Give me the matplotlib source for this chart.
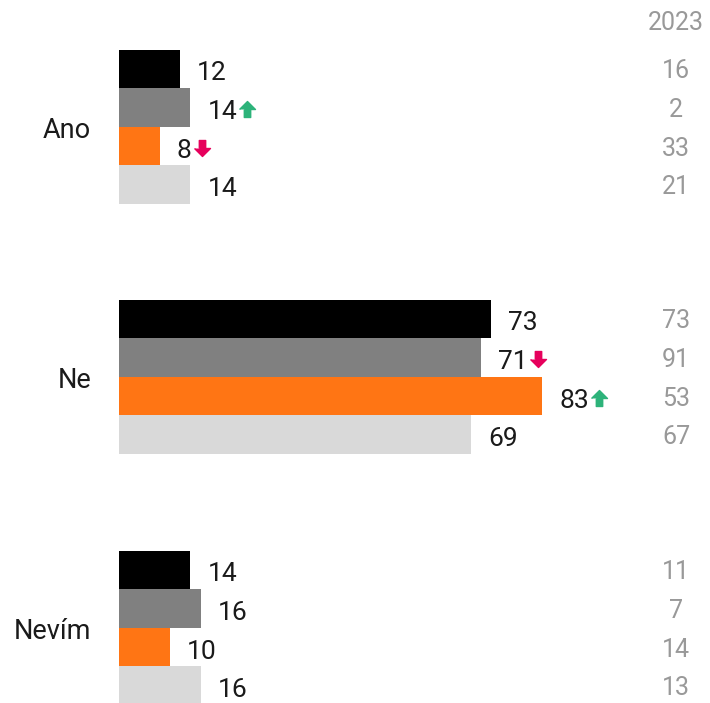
import matplotlib
matplotlib.use("Agg")
import matplotlib.pyplot as plt
import numpy as np

categories = ["Ano", "Ne", "Nevím"]
# four series per category, top to bottom
values = [
    [12, 14, 8, 14],
    [73, 71, 83, 69],
    [14, 16, 10, 16],
]
values_2023 = [
    [16, 2, 33, 21],
    [73, 91, 53, 67],
    [11, 7, 14, 13],
]
# change markers: 1 = up, -1 = down, 0 = none
changes = [
    [0, 1, -1, 0],
    [0, -1, 1, 0],
    [0, 0, 0, 0],
]
bar_colors = ["#000000", "#808080", "#ff7514", "#d9d9d9"]
year_label = "2023"

plt.rcParams['font.family'] = ['Roboto', 'DejaVu Sans']

W, H = 710, 703
fig = plt.figure(figsize=(W / 100, H / 100), dpi=100)
ax = fig.add_axes([0, 0, 1, 1])
px_per_unit = 5.1
x0 = 119
ax.set_xlim(-x0 / px_per_unit, (W - x0) / px_per_unit)
ax.set_ylim(H, 0)
ax.axis("off")

group_top = [50, 300, 551]
bar_h = 38.4

texts = []
for g, cat in enumerate(categories):
    ys = group_top[g] + bar_h / 2 + bar_h * np.arange(4)
    ax.barh(ys, values[g], height=bar_h, color=bar_colors, left=0)
    ax.text(-28 / px_per_unit, group_top[g] + 2 * bar_h + 4, cat, ha="right", va="center",
            fontsize=19.5, color="#1a1a1a")
    for i in range(4):
        ly = group_top[g] + 23 + 38.8 * i
        t = ax.text(values[g][i] + 17 / px_per_unit, ly, str(values[g][i]), ha="left",
                    va="center", fontsize=19, color="#1a1a1a")
        texts.append((t, changes[g][i], ly))
        ax.text(557 / px_per_unit, ly - 2, str(values_2023[g][i]), ha="center",
                va="center", fontsize=18, color="#999999")

ax.text(557 / px_per_unit, 23, year_label, ha="center", va="center",
        fontsize=18, color="#999999")

# arrows after the labels
fig.canvas.draw()
renderer = fig.canvas.get_renderer()
up = [(-0.5, 0), (0, 0.5), (0.5, 0), (0.2, 0), (0.2, -0.5), (-0.2, -0.5), (-0.2, 0)]
down = [(x, -y) for x, y in up]
inv = ax.transData.inverted()
for t, ch, ly in texts:
    if ch == 0:
        continue
    bb = t.get_window_extent(renderer)
    xd, _ = inv.transform((bb.x1 + 10, 0))
    if ch > 0:
        ax.plot(xd, ly - 3, marker=up, markersize=11.5, color="#2db37a", linestyle="none")
    else:
        ax.plot(xd, ly - 3, marker=down, markersize=11.5, color="#e6005c", linestyle="none")

fig.savefig("out.png", dpi=100)
